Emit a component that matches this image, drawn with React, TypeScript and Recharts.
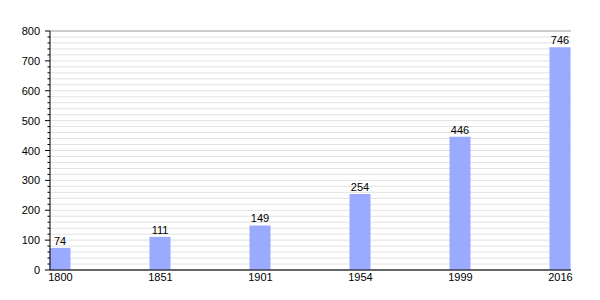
import { BarChart, Bar, XAxis, YAxis, CartesianGrid, LabelList } from 'recharts'

const years = ['1800', '1851', '1901', '1954', '1999', '2016']
const population = [74, 111, 149, 254, 446, 746]
const majorTicks = [0, 100, 200, 300, 400, 500, 600, 700, 800]
const minorTicks = Array.from({ length: 41 }, (_, i) => i * 20)

const data = years.map((year, i) => ({ idx: i, year, value: population[i] }))

const font = '"Liberation Sans", Arial, sans-serif'

function YTick({ x, y, payload }: any) {
  const major = payload.value % 100 === 0
  const axisX = x + 10
  return (
    <g>
      <line x1={axisX - (major ? 5 : 2.5)} x2={axisX} y1={y} y2={y} stroke="#000" />
      {major && (
        <text x={x} y={y} dy={4} textAnchor="end" fontSize={11} fontFamily={font} fill="#000">
          {payload.value}
        </text>
      )}
    </g>
  )
}

export default function App() {
  return (
    <div style={{ position: 'absolute', left: 0, top: 0, background: '#fff' }}>
      <BarChart
        width={600}
        height={300}
        data={data}
        margin={{ top: 31, right: 29, left: 0, bottom: 0 }}
      >
        <CartesianGrid vertical={false} stroke="#e2e2e2" />
        <CartesianGrid vertical={false} yAxisId="major" stroke="#a8a8a8" />
        <XAxis
          dataKey="idx"
          type="number"
          domain={[0, 5]}
          ticks={[0, 1, 2, 3, 4, 5]}
          tickFormatter={(i: number) => years[i]}
          padding={{ left: 10.5, right: 10.5 }}
          height={30}
          tickLine={false}
          tickSize={0}
          tickMargin={3}
          axisLine={{ stroke: '#000' }}
          tick={{ fill: '#000', fontSize: 11, fontFamily: font }}
        />
        <YAxis
          width={50}
          domain={[0, 800]}
          ticks={minorTicks}
          interval={0}
          tickLine={false}
          tickSize={5}
          tickMargin={5}
          axisLine={{ stroke: '#000' }}
          tick={<YTick />}
        />
        <YAxis yAxisId="major" hide domain={[0, 800]} ticks={majorTicks} />
        <Bar dataKey="value" fill="#99aaff" barSize={21} isAnimationActive={false}>
          <LabelList
            dataKey="value"
            position="top"
            offset={3}
            fill="#000"
            fontSize={11}
            fontFamily={font}
          />
        </Bar>
      </BarChart>
    </div>
  )
}
